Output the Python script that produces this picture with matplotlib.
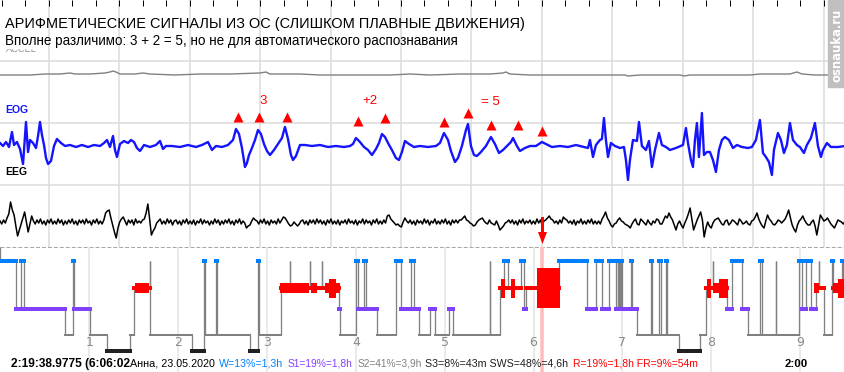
import matplotlib
matplotlib.use("Agg")
import matplotlib.pyplot as plt
import matplotlib.font_manager as fm
from matplotlib.patches import Rectangle, FancyArrow
import numpy as np

# ---------------------------------------------------------------- data
title = "АРИФМЕТИЧЕСКИЕ СИГНАЛЫ ИЗ ОС (СЛИШКОМ ПЛАВНЫЕ ДВИЖЕНИЯ)"
subtitle = "Вполне различимо: 3 + 2 = 5, но не для автоматического распознавания"
channel_names = ["ACCEL", "EOG", "EEG"]
watermark = "osnauka.ru"

window_s = 120          # shown window, seconds
grid_first_s = 6.95     # first 10 s grid line
grid_step_s = 10

accel_t = [0, 4.26, 6.39, 8.52, 9.94, 10.65, 12.78, 14.91, 15.62, 16.05,
           16.47, 17.04, 19.17, 20.31, 21.30, 24.85, 28.40, 32.66, 36.92, 37.77,
           38.34, 42.60, 45.44, 51.12, 55.38, 58.22, 61.06, 65.32, 69.58, 71.43,
           71.85, 72.42, 75.26, 79.52, 85.20, 88.75, 89.18, 90.88, 93.72, 96.56,
           97.13, 97.98, 102.24, 106.50, 107.92, 110.05, 112.18, 113.17, 113.88, 115.73,
           117.86, 120.0]
accel_v = [0, 0, 1, 1, 2, 1, 1, 2, 3, 4,
           3, 1, 1, 2, 1, 0, 1, 1, 2, 3,
           1, 1, 0, 0, 0, 1, 0, 1, 1, 2,
           3, 1, 0, 0, 0, 0, -1, 0, 0, 0,
           -1, 0, 0, 0, 1, 1, 1, 3, 1, 0,
           0, 0]

eog_t = [0, 0.43, 0.85, 1.28, 1.70, 1.99, 2.41, 2.84, 3.27, 3.69,
         3.98, 4.26, 4.69, 5.11, 5.40, 5.68, 5.96, 6.25, 6.53, 6.82,
         7.24, 7.67, 8.09, 8.66, 9.23, 9.94, 10.79, 11.64, 12.50, 13.35,
         14.20, 14.77, 15.19, 15.62, 16.05, 16.33, 16.61, 17.04, 17.61, 18.18,
         18.60, 19.03, 19.45, 19.88, 20.45, 21.30, 22.15, 22.72, 23.15, 23.57,
         24.42, 25.56, 26.70, 27.83, 28.68, 29.54, 30.10, 30.67, 31.52, 32.38,
         33.09, 33.51, 33.94, 34.36, 34.79, 35.07, 35.36, 35.78, 36.21, 36.64,
         37.06, 37.49, 37.91, 38.34, 38.91, 39.48, 40.04, 40.47, 40.90, 41.32,
         41.61, 42.03, 42.60, 43.31, 44.30, 45.44, 46.58, 47.71, 48.85, 49.70,
         50.13, 50.55, 51.12, 51.69, 52.26, 52.82, 53.39, 53.82, 54.24, 54.67,
         55.10, 55.66, 56.23, 56.66, 57.08, 57.51, 58.08, 58.79, 59.64, 60.78,
         61.91, 62.48, 63.05, 63.62, 64.04, 64.61, 65.04, 65.60, 66.17, 66.46,
         66.88, 67.31, 67.73, 68.30, 69.01, 69.72, 70.29, 70.86, 71.43, 71.99,
         72.56, 72.85, 73.41, 73.84, 74.55, 75.26, 76.11, 76.96, 77.53, 78.38,
         79.52, 80.66, 81.79, 82.93, 83.50, 83.78, 84.21, 84.63, 85.20, 85.48,
         85.77, 86.05, 86.34, 86.76, 87.33, 88.04, 88.61, 88.89, 89.18, 89.46,
         89.89, 90.45, 90.74, 91.16, 91.73, 92.16, 92.58, 93.01, 93.58, 94.00,
         94.57, 95.14, 95.99, 96.99, 97.41, 97.70, 98.12, 98.41, 98.69, 98.97,
         99.26, 99.68, 99.97, 100.39, 100.82, 101.25, 101.67, 102.10, 102.52, 102.95,
         103.52, 104.09, 104.65, 105.36, 106.22, 106.78, 107.35, 107.92, 108.35, 108.77,
         109.20, 109.62, 109.91, 110.48, 110.90, 111.33, 111.75, 112.18, 112.61, 113.17,
         113.60, 114.17, 114.59, 115.16, 115.73, 116.16, 116.58, 116.87, 117.43, 118.00,
         119.00, 120.00]
eog_v = [3, 0, 4, -1, 14, 1, 4, -3, -18, 24,
         -6, 6, 3, -2, 10, 24, 11, 1, -12, -18,
         -15, 0, 7, 3, 0, 1, -1, 1, -1, 1,
         0, 3, 6, -1, 10, -4, -11, 2, 5, 3,
         6, 4, -2, -5, 1, -1, 1, 5, -3, 0,
         0, -1, 1, -1, 1, 4, -4, 0, -1, 1,
         6, 17, 12, -2, -21, -17, -9, -2, 6, 16,
         12, 2, -5, -9, -4, 2, 8, 19, 7, -9,
         -14, -10, 1, 1, 0, 1, -1, 0, -1, 0,
         2, 8, 4, -1, -4, -9, -3, 3, 12, 9,
         3, -4, -12, -14, -6, 5, 2, -1, 0, -1,
         0, 3, 13, 6, -5, -16, -12, 0, 16, 22,
         0, -9, -10, -6, 0, 9, 2, -7, -4, 0,
         4, 8, 0, -5, -2, 0, 0, 4, 2, -1,
         0, -1, 1, -1, -2, 6, -11, 1, 6, 7,
         28, 6, -11, 3, 0, -2, -1, -14, -34, -14,
         6, 5, 24, 0, -4, 5, -21, -4, 13, 1,
         -1, -4, -2, 1, 18, 3, -14, -21, 6, 23,
         -11, 33, -9, -6, -6, -14, -26, -4, 6, 9,
         6, -2, 1, -1, -2, -1, 6, 26, -7, -11,
         -16, -29, -4, 13, 6, -7, 1, 23, 6, 1,
         -1, -7, 1, 8, 23, 0, -11, -4, 3, -1,
         -1, 0]

eeg_dt = 0.25
eeg_v = [1, -2, 2, -1, 4, 8, 20, 12, 7, -4, -14, -8, -2, 4, 10, 0, -10, -2, 6, 1,
         -2, 2, -1, 3, -2, 1, -3, 2, -1, 3, -2, 1, -2, 3, -1, 2, -3, 1, -2, 2,
         -1, 3, -2, 1, -3, 2, -1, 2, -2, 3, -1, 1, -3, 2, -1, 3, -2, 1, -2, 2,
         9, 11, 12, 4, -3, -10, -16, -6, 0, 3, 5, 1, -3, 2, -1, 2, -3, 3, -1, 1,
         -1, 2, 3, 9, 18, 3, -13, -9, -6, -1, 1, 3, -2, 1, -2, 3, -1, 2, -3, 1,
         2, -2, 1, -3, 2, -1, 3, -2, 1, -2, 2, -3, 1, -1, 3, -2, 2, -1, 1, -3,
         1, -2, 3, -1, 2, -3, 1, -2, 2, -1, 3, -2, 1, -3, 2, -1, 3, -2, 1, -1,
         -6, -4, -3, 1, 4, 2, 1, -2, 2, -1, 3, -2, 1, -3, 2, -1, 1, -2, 3, -1,
         2, 5, 4, 1, -2, -4, -3, 0, -2, -4, -2, 1, 2, -2, 1, -3, 2, -1, 2, -2,
         3, -1, 2, -2, 1, -3, 2, -1, 3, -2, 1, -2, 2, -3, 1, -1, 2, -2, 3, -1,
         1, -2, 2, -3, 1, -1, 3, -2, 2, -1, 1, -3, 2, -1, 3, -2, 1, -2, 2, -1,
         6, 7, 3, 1, -1, -3, -2, -4, -5, 0, 4, 1, -1, 2, -2, 1, -3, 2, -1, 1,
         -2, 3, -1, 2, -3, 1, -1, 3, -2, 1, -2, 2, -1, 3, -2, 1, -3, 2, -1, 2,
         -1, 2, 2, 4, 6, 2, 1, -1, -2, -4, -3, 0, 2, 3, 4, 1, -1, -2, 2, -1,
         -2, -3, 1, -3, -8, -6, -4, -1, 0, 2, -1, 2, -2, 1, -3, 2, -1, 3, -2, 1,
         -1, 2, -2, 1, -2, 3, -1, 2, -3, 1, 2, 4, 6, 3, 2, -1, 1, -2, 2, -1,
         5, 3, 2, -1, 1, -2, 2, -3, 1, -1, 3, -2, 1, -2, 2, -1, 3, -2, 1, -2,
         1, -2, 3, 6, 10, 4, 1, -3, -5, -2, -1, 2, 4, 1, 0, -2, -3, -4, -6, -2,
         1, 3, -2, -3, 3, 1, -1, -3, 2, -1, -3, 1, -1, 3, 2, -2, -2, 2, 6, 4,
         9, 5, 2, -3, -8, -2, 1, -3, -6, -1, 3, 8, 14, 3, -8, -3, 2, 6, 10, 2,
         -15, -6, 0, -4, -6, -1, 2, 3, 4, 1, -2, -3, 1, 2, -3, -1, 2, 1, -1, -3,
         3, 1, -2, -1, 1, -2, -3, 1, 2, 5, 9, 3, -1, -4, -6, 1, 7, 3, 1, -2,
         -3, -1, 2, 1, -1, 1, 3, 7, 12, 4, -3, -7, -10, -3, 1, 3, 6, 2, -1, -3,
         -3, 0, 2, -4, -13, -3, 7, 4, 1, 2, 4, 1, -2, -4, -6, -2, 2, 1, 0, -2,
         1]

# eye-movement marks (red triangles) and the handwritten reading
em_t = [33.80, 36.78, 40.75, 50.84, 54.67, 63.05, 66.46, 69.72, 73.56, 76.96]
em_v = [29, 29, 29, 25, 28, 24, 33, 21, 21, 15]
note_text = ["3", "+2", "= 5"]
note_t = [37.35, 52.54, 69.58]
note_v = [45, 45, 44]

# hypnogram: stage changes (minutes from lights off)
hyp_start_min = [0, 10.5, 13.8, 15.9, 43.6, 48.8, 50.0, 60.3, 72.1, 87.8,
                 90.3, 100.8, 101.3, 129.5, 137.3, 138.1, 145.9, 146.5, 168.6, 174.0,
                 174.6, 189.3, 195.4, 195.8, 208.9, 209.3, 217.0, 217.4, 228.5, 229.6,
                 239.9, 241.3, 245.3, 246.7, 254.1, 266.9, 270.3, 277.5, 279.1, 282.7,
                 289.9, 293.3, 302.7, 305.7, 330.4, 330.9, 337.2, 340.1, 342.6, 351.8,
                 353.5, 355.2, 377.0, 395.9, 402.0, 406.1, 410.8, 415.8, 416.7, 417.1,
                 417.7, 418.2, 418.9, 419.4, 425.6, 426.3, 429.7, 439.4, 439.9, 445.0,
                 446.2, 449.3, 449.8, 458.5, 472.2, 476.6, 481.0, 481.5, 490.7, 494.3,
                 500.6, 504.7, 512.6, 514.1, 523.4, 523.8, 539.4, 541.6, 544.3, 547.2,
                 550.6, 552.6, 553.1, 556.0, 561.4, 561.9, 568.6, 569.3]
hyp_stage = ["W", "S1", "W", "S1", "S2", "W", "S1", "S2", "S3", "S2",
             "R", "W", "S2", "S3", "W", "S2", "W", "S2", "S3", "W",
             "S2", "R", "W", "R", "W", "R", "W", "R", "S1", "S2",
             "W", "S1", "W", "S1", "S2", "W", "S1", "W", "S1", "S2",
             "S1", "S2", "S1", "S2", "W", "S2", "R", "W", "R", "W",
             "S1", "R", "W", "S1", "W", "S1", "W", "S1", "W", "S1",
             "W", "S1", "W", "S1", "W", "S1", "S2", "W", "S2", "W",
             "S2", "W", "S2", "S3", "S2", "R", "W", "R", "S1", "W",
             "S1", "S2", "W", "S2", "W", "S2", "W", "S1", "W", "S1",
             "R", "W", "R", "S2", "W", "R", "W", "R"]
hyp_end_min = 571

# REM eye-movement density blocks
rem_blk_start = [91.2, 189.1, 210.0, 219.5, 221.7, 338.3, 344.6, 362.0, 477.2, 481.5, 484.9, 549.7, 562.5, 565.9]
rem_blk_end = [100.6, 208.7, 214.1, 229.6, 226.9, 341.0, 347.6, 378.2, 479.5, 484.9, 491.4, 553.1, 565.9, 569.5]
rem_blk_level = [2, 2, 2, 2, 3, 3, 3, 4, 3, 2, 3, 2, 2, 3]

hour_ticks = [1, 2, 3, 4, 5, 6, 7, 8, 9]
cursor_clock = (6, 6, 2)    # 6:06:02 into the night

summary_parts = ["2:19:38.9775 (6:06:02", "Анна, 23.05.2020", "W=13%=1,3h", "S1=19%=1,8h",
                 "S2=41%=3,9h", "S3=8%=43m SWS=48%=4,6h", "R=19%=1,8h FR=9%=54m", "2:00"]

# ---------------------------------------------------------------- style / layout
W, H = 845, 372
STAGE_Y = {"W": 261, "R": 288, "S1": 309, "S2": 335, "S3": 351}
STAGE_COL = {"W": "#0080ff", "R": "#ff0000", "S1": "#8040ff", "S2": "#808080", "S3": "#202020"}
STAGE_LW = {"W": 4, "R": 4, "S1": 4, "S2": 2, "S3": 4}     # px
REM_H = {2: 10, 3: 19, 4: 40}
PX = 72 / 100.0
PX_PER_HOUR = 88.85
H0 = -0.005


def has_font(name):
    try:
        fm.findfont(fm.FontProperties(family=name), fallback_to_default=False)
        return True
    except Exception:
        return False


SANS = "Liberation Sans" if has_font("Liberation Sans") else "DejaVu Sans"
NARROW = "Liberation Sans Narrow" if has_font("Liberation Sans Narrow") else SANS

fig = plt.figure(figsize=(W / 100, H / 100), dpi=100)
fig.patch.set_facecolor("white")


def px_axes(z):
    a = fig.add_axes([0, 0, 1, 1], zorder=z)
    a.set_xlim(0, W)
    a.set_ylim(H, 0)
    a.axis("off")
    return a


bg = px_axes(0)
ax_s = fig.add_axes([0, 125 / H, 1, 247 / H], zorder=1)
ax_s.set_xlim(0, window_s)
ax_s.set_ylim(247, 0)
ax_s.axis("off")
ax_h = fig.add_axes([0, 0, 1, 125 / H], zorder=1)
ax_h.set_xlim(H0, H0 + W / PX_PER_HOUR)
ax_h.set_ylim(H, 247)
ax_h.axis("off")
fg = px_axes(5)

renderer = fig.canvas.get_renderer()


def fit(txt, width):
    w = txt.get_window_extent(renderer).width
    txt.set_fontsize(txt.get_fontsize() * width / w)
    return txt


# ----- signal panel grid
grid_col = "#dadada"
grid_t = [grid_first_s + grid_step_s * k for k in range(int((window_s - grid_first_s) // grid_step_s) + 1)]
ax_s.vlines(grid_t, 0, 247, colors=grid_col, lw=1.5 * PX, zorder=0)
ax_s.hlines([61, 123, 185], 0, window_s, colors=grid_col, lw=1.5 * PX, zorder=0)
tick_t = np.arange(grid_first_s % (grid_step_s / 3), window_s, grid_step_s / 3)
ax_s.vlines(tick_t, 0, 6, colors="black", lw=1.0 * PX, zorder=3)
bg.hlines(247, 0, W, colors="#a8a8a8", lw=0.75, linestyles=(0, (3.8, 1.9)))

# ----- signals
base = {"ACCEL": 75, "EOG": 146, "EEG": 222}
ax_s.plot(accel_t, [base["ACCEL"] - v for v in accel_v], color="#808080", lw=1.0, zorder=2)
ax_s.plot(eog_t, [base["EOG"] - v for v in eog_v], color="#1414ff", lw=1.7, zorder=2)
eeg_t = [i * eeg_dt for i in range(len(eeg_v))]
ax_s.plot(eeg_t, [base["EEG"] - v for v in eeg_v], color="black", lw=1.1, zorder=2)
ax_s.plot(em_t, [base["EOG"] - v for v in em_v], ls="none", marker="^", ms=7.5,
          color="#ff0000", mec="none", zorder=3)
for s, t, v in zip(note_text, note_t, note_v):
    ax_s.text(t, base["EOG"] - v, s, color="#ff0000", fontsize=9.5, family=SANS,
              ha="center", va="center", zorder=3)

# ----- texts of the signal panel
t_title = fg.text(5, 28, title, family=NARROW, fontsize=10, color="black", va="baseline", ha="left")
fit(t_title, 518)
t_acc = fg.text(6, 51.7, channel_names[0], family=SANS, fontsize=7, color="#909090",
                va="baseline", ha="left", zorder=1)
fit(t_acc, 31)
fg.add_patch(Rectangle((3, 38), 40, 9.7, color="white", zorder=2))
t_sub = fg.text(5, 44.5, subtitle, family=SANS, fontsize=9, color="black", va="baseline",
                ha="left", zorder=3)
fit(t_sub, 456)
fg.text(5, 113, channel_names[1], family=SANS, weight="bold", fontsize=7.5,
        color="#1414ff", va="baseline", ha="left")
fg.text(5, 175, channel_names[2], family=SANS, weight="bold", fontsize=7.5,
        color="black", va="baseline", ha="left")

# watermark
fg.add_patch(Rectangle((828, 0), 17, 87, color="#c0c0c0", zorder=6))
t_wm = fg.text(837, 45, watermark, rotation=90, color="white", weight="bold",
               family="DejaVu Sans", fontsize=9, ha="center", va="center", zorder=7)
fit_h = t_wm.get_window_extent(renderer).height
t_wm.set_fontsize(t_wm.get_fontsize() * 73 / fit_h)

# ----- hypnogram
ax_h.vlines(hour_ticks, 247, H, colors="#e4e4e4", lw=1.5 * PX, zorder=0)
for h in hour_ticks:
    ax_h.text(h, 343, str(h), color="#8a8a8a", fontsize=9, family="DejaVu Sans",
              ha="center", va="center", zorder=1)
cursor_h = cursor_clock[0] + cursor_clock[1] / 60 + cursor_clock[2] / 3600
ax_h.axvline(cursor_h, color="#ffbcbc", lw=3.5 * PX, zorder=1)

ends = hyp_start_min[1:] + [hyp_end_min]
# connectors
ax_h.vlines(0, 247, STAGE_Y[hyp_stage[0]], colors="#808080", lw=1.3 * PX, zorder=2)
for i in range(1, len(hyp_stage)):
    ax_h.vlines(hyp_start_min[i] / 60, STAGE_Y[hyp_stage[i - 1]], STAGE_Y[hyp_stage[i]],
                colors="#808080", lw=1.3 * PX, zorder=2)
for s, e, st in zip(hyp_start_min, ends, hyp_stage):
    ax_h.plot([s / 60, e / 60], [STAGE_Y[st]] * 2, color=STAGE_COL[st],
              lw=STAGE_LW[st] * PX, solid_capstyle="projecting",
              zorder=4 if st == "R" else 3)
for s, e, lv in zip(rem_blk_start, rem_blk_end, rem_blk_level):
    hh = REM_H[lv]
    ax_h.add_patch(Rectangle((s / 60, STAGE_Y["R"] - hh / 2), (e - s) / 60, hh,
                             color=STAGE_COL["R"], lw=0, zorder=4))

# cursor arrow
cx = ax_h.transData.transform((cursor_h, 300))[0]
fg.add_patch(FancyArrow(cx, 217, 0, 27, width=3, head_width=9, head_length=12,
                        length_includes_head=True, color="#ff0000", lw=0, zorder=6))

# ----- summary line
part_x0 = [11, 130, 219, 288, 358, 425, 573, 785]
part_x1 = [130, 215, 283, 353, 422, 568, 697, 808]
part_col = ["black", "black", STAGE_COL["W"], STAGE_COL["S1"], STAGE_COL["S2"],
            "#202020", STAGE_COL["R"], "black"]
part_w = ["bold", "normal", "normal", "normal", "normal", "normal", "normal", "bold"]
for s, a, b, c, wgt in zip(summary_parts, part_x0, part_x1, part_col, part_w):
    t = fg.text(a, 367, s, color=c, weight=wgt, family=SANS, fontsize=9,
                va="baseline", ha="left", zorder=6)
    fit(t, b - a)

fig.savefig("out.png", dpi=100, facecolor="white")
